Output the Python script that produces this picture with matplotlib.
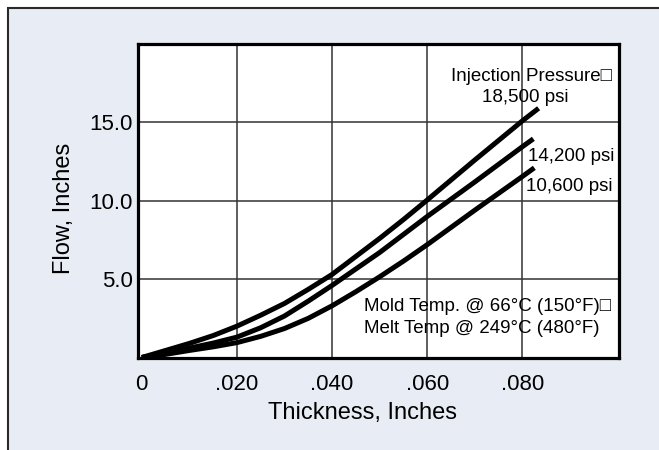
import matplotlib
matplotlib.use('Agg')
from matplotlib import pyplot as plt
from matplotlib.patches import Rectangle

plt.rcParams['font.family'] = ['Liberation Sans', 'DejaVu Sans']

# thickness (in) and flow (in)
thickness = [0, 0.005, 0.01, 0.015, 0.02, 0.025, 0.03, 0.035, 0.04, 0.045,
             0.05, 0.055, 0.06, 0.07, 0.08]
flow_18500 = [0, 0.45, 0.9, 1.4, 2.0, 2.7, 3.45, 4.35, 5.3, 6.45,
              7.6, 8.8, 10.05, 12.6, 15.1]
flow_14200 = [0, 0.3, 0.6, 0.92, 1.3, 1.9, 2.65, 3.6, 4.6, 5.65,
              6.7, 7.85, 9.0, 11.2, 13.45]
flow_10600 = [0, 0.2, 0.45, 0.68, 0.95, 1.35, 1.85, 2.5, 3.3, 4.2,
              5.15, 6.15, 7.2, 9.4, 11.55]
# where each curve stops
end_x = [0.0834, 0.0823, 0.0825]
end_y = [15.9, 13.95, 12.1]

x_ticks = [0, 0.02, 0.04, 0.06, 0.08]
x_labels = ['0', '.020', '.040', '.060', '.080']
y_ticks = [5, 10, 15]
y_labels = ['5.0', '10.0', '15.0']

BG = '#e8ecf4'

fig = plt.figure(figsize=(6.59, 4.50), dpi=100, facecolor='white')
# panel with border on top and left only (runs off the image right/bottom)
fig.patches.append(Rectangle((7.5 / 659, -0.1), 1.2, 1 - 7.5 / 450 + 0.1,
                             transform=fig.transFigure, facecolor=BG,
                             edgecolor='#2a2a2a', lw=1.5, zorder=-10))

ax = fig.add_axes([138 / 659, 1 - 357.5 / 450, 481 / 659, 313.5 / 450])
ax.set_facecolor('white')

for ys, ex, ey in zip([flow_18500, flow_14200, flow_10600], end_x, end_y):
    ax.plot(thickness + [ex], ys + [ey], color='black', lw=3.6,
            solid_capstyle='butt', solid_joinstyle='round', zorder=3)

ax.set_xlim(-0.0008, 0.1003)
ax.set_ylim(0, 20)
ax.set_xticks(x_ticks)
ax.set_xticklabels(x_labels)
ax.set_yticks(y_ticks)
ax.set_yticklabels(y_labels)
ax.tick_params(length=0, labelsize=16)
ax.tick_params(axis='x', pad=12)
ax.tick_params(axis='y', pad=4)
ax.grid(True, color='#333333', lw=1.1, zorder=1)
ax.xaxis.get_gridlines()[0].set_visible(False)
ax.set_axisbelow(True)
for s in ax.spines.values():
    s.set_linewidth(2.3)
    s.set_color('black')

ax.set_xlabel('Thickness, Inches', fontsize=17)
ax.xaxis.set_label_coords(0.466, -0.142)
ax.set_ylabel('Flow, Inches', fontsize=17)
ax.yaxis.set_label_coords(-0.13, 0.477)

fs = 13.5
ax.text(0.0819, 17.9, 'Injection Pressure\u25a1', fontsize=fs, ha='center', va='center')
ax.text(0.0806, 16.6, '18,500 psi', fontsize=fs, ha='center', va='center')
ax.text(0.0811, 12.8, '14,200 psi', fontsize=fs, ha='left', va='center')
ax.text(0.0808, 10.9, '10,600 psi', fontsize=fs, ha='left', va='center')
ax.text(0.0467, 3.25, 'Mold Temp. @ 66\u00b0C (150\u00b0F)\u25a1', fontsize=fs, ha='left', va='center')
ax.text(0.0467, 1.85, 'Melt Temp @ 249\u00b0C (480\u00b0F)', fontsize=fs, ha='left', va='center')

plt.savefig('out.png', dpi=100)
